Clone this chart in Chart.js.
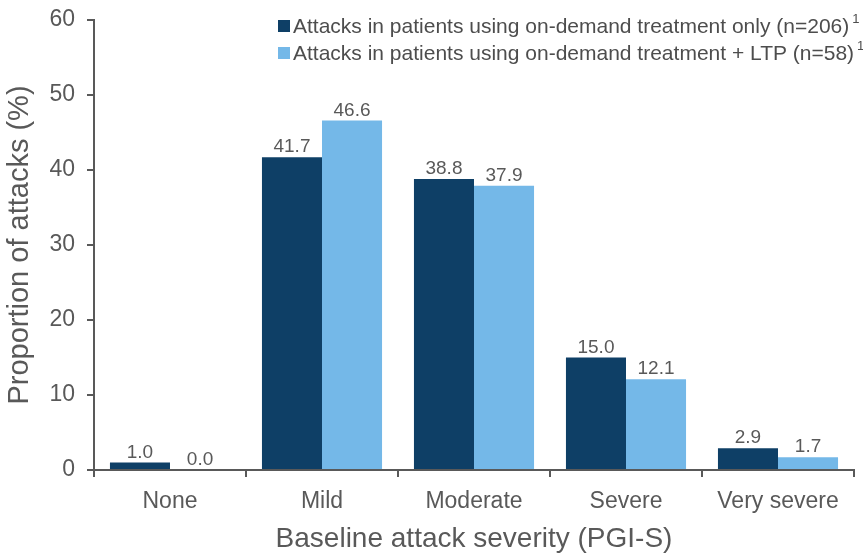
<!DOCTYPE html>
<html>
<head>
<meta charset="utf-8">
<script src="https://cdn.jsdelivr.net/npm/chart.js@4/dist/chart.umd.min.js"></script>
<style>
html,body{margin:0;padding:0;background:#fff;}
#wrap{width:863px;height:559px;position:relative;}
</style>
</head>
<body>
<div id="wrap"><canvas id="c" width="863" height="559"></canvas></div>
<script>
const categories = ["None", "Mild", "Moderate", "Severe", "Very severe"];
const onDemandOnly = [1.0, 41.7, 38.8, 15.0, 2.9];
const onDemandLTP = [0.0, 46.6, 37.9, 12.1, 1.7];
const seriesLabels = [
  "Attacks in patients using on-demand treatment only (n=206)",
  "Attacks in patients using on-demand treatment + LTP (n=58)"
];
const yTicks = [0, 10, 20, 30, 40, 50, 60];

const FONT = "'Liberation Sans', Arial, sans-serif";
const GREY = "#595959";
const DARK = "#0E3F66";
const LIGHT = "#74B8E8";

const valueLabels = {
  id: "valueLabels",
  afterDatasetsDraw(chart) {
    const ctx = chart.ctx;
    ctx.save();
    ctx.font = "19px " + FONT;
    ctx.fillStyle = GREY;
    ctx.textAlign = "center";
    ctx.textBaseline = "alphabetic";
    chart.data.datasets.forEach((ds, i) => {
      const meta = chart.getDatasetMeta(i);
      meta.data.forEach((bar, j) => {
        ctx.fillText(ds.data[j].toFixed(1), bar.x, bar.y - 5);
      });
    });
    ctx.restore();
  }
};

const customLegend = {
  id: "customLegend",
  afterDraw(chart) {
    const ctx = chart.ctx;
    ctx.save();
    const x0 = 278, ys = [26, 53];
    chart.data.datasets.forEach((ds, i) => {
      const y = ys[i];
      ctx.fillStyle = ds.backgroundColor;
      ctx.fillRect(x0, y - 6, 12, 12);
      ctx.font = "21px " + FONT;
      ctx.fillStyle = "#4d4d4d";
      ctx.textAlign = "left";
      ctx.textBaseline = "middle";
      ctx.fillText(ds.label, x0 + 15, y + 1);
      const w = ctx.measureText(ds.label).width;
      ctx.font = "13px " + FONT;
      ctx.fillText("1", x0 + 15 + w + 3, y - 7);
    });
    ctx.restore();
  }
};

new Chart(document.getElementById("c"), {
  type: "bar",
  data: {
    labels: categories,
    datasets: [
      { label: seriesLabels[0], data: onDemandOnly, backgroundColor: DARK, categoryPercentage: 0.79, barPercentage: 1.0 },
      { label: seriesLabels[1], data: onDemandLTP, backgroundColor: LIGHT, categoryPercentage: 0.79, barPercentage: 1.0 }
    ]
  },
  options: {
    responsive: false,
    animation: false,
    devicePixelRatio: 1,
    layout: { padding: { left: 0, right: 9, top: 20, bottom: 0 } },
    plugins: { legend: { display: false }, tooltip: { enabled: false } },
    scales: {
      x: {
        grid: { drawOnChartArea: false, drawTicks: true, tickLength: 7, color: GREY, lineWidth: 2 },
        border: { color: GREY, width: 2 },
        ticks: { color: GREY, font: { family: FONT, size: 23 }, padding: 11 },
        title: { display: true, text: "Baseline attack severity (PGI-S)", color: GREY, font: { family: FONT, size: 28 }, padding: { top: 0, bottom: 3 } },
        afterFit(scale) { scale.height = 89; scale.paddingLeft = 0; scale.paddingRight = 0; }
      },
      y: {
        min: 0, max: 60,
        afterBuildTicks(scale) { scale.ticks = yTicks.map(v => ({ value: v })); },
        grid: { drawOnChartArea: false, drawTicks: true, tickLength: 7, color: GREY, lineWidth: 2 },
        border: { color: GREY, width: 2 },
        ticks: { color: GREY, font: { family: FONT, size: 23 }, padding: 12 },
        title: { display: true, text: "Proportion of attacks (%)", color: GREY, font: { family: FONT, size: 29 }, padding: { top: 3, bottom: 0 } },
        afterFit(scale) { scale.width = 94; scale.paddingTop = 0; scale.paddingBottom = 0; }
      }
    }
  },
  plugins: [valueLabels, customLegend]
});
</script>
</body>
</html>
